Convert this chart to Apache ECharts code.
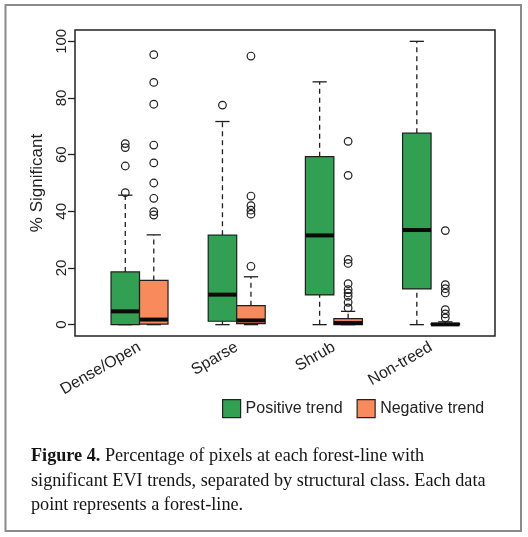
<!DOCTYPE html>
<html><head><meta charset="utf-8">
<script src="https://cdn.jsdelivr.net/npm/echarts@6/dist/echarts.min.js"></script>
<style>html,body{margin:0;padding:0;background:#fff}#c{width:528px;height:537px}</style>
</head><body><div id="c"></div>
<script>
// Categories and tick labels
const categories = ['Dense/Open', 'Sparse', 'Shrub', 'Non-treed'];
const yTicks = [0, 20, 40, 60, 80, 100];
// Box statistics per category: [lowerWhisker, Q1, median, Q3, upperWhisker]
const positiveStats = [
  [0, 0, 4.7, 18.6, 45.7],
  [0, 1.2, 10.6, 31.6, 71.7],
  [0, 10.5, 31.5, 59.3, 85.7],
  [0, 12.6, 33.4, 67.6, 100]
];
const negativeStats = [
  [0, 0.2, 1.8, 15.6, 31.7],
  [0, 0.35, 1.5, 6.7, 16.9],
  [0, 0, 0.6, 2.1, 4.7],
  [0, 0, 0.1, 0.4, 1.0]
];
// Outliers per category
const positiveOutliers = [
  [63.9, 62.5, 56, 46.6],
  [77.5],
  [],
  []
];
const negativeOutliers = [
  [95.3, 85.5, 77.8, 63.4, 57.1, 50, 44.6, 39.9, 38.7],
  [94.8, 45.4, 42, 40.4, 39, 20.6],
  [64.7, 52.7, 23, 21.6, 14.5, 12.4, 11.2, 10, 7.9, 5.9],
  [33.2, 14.1, 12.7, 11.2, 5.3, 3.8, 2.4]
];

const GREEN = '#31a052';
const ORANGE = '#f98a5b';
const HALF = 0.1466; // half box width in category units
const INK = '#1e1e1e';

function makeRender(outliers, side, color) {
  return function (params, api) {
    const i = api.value(0);
    const cx = i + 1 + side * HALF;
    const lo = api.value(1), q1 = api.value(2), med = api.value(3), q3 = api.value(4), hi = api.value(5);
    const c = (x, y) => api.coord([x, y]);
    const children = [];
    const dash = { stroke: INK, lineWidth: 1.3, lineDash: [5, 4] };
    const solid = { stroke: INK, lineWidth: 1.3 };
    let a = c(cx, q3), b = c(cx, hi);
    children.push({ type: 'line', shape: { x1: a[0], y1: a[1], x2: b[0], y2: b[1] }, style: dash });
    a = c(cx, lo); b = c(cx, q1);
    children.push({ type: 'line', shape: { x1: a[0], y1: a[1], x2: b[0], y2: b[1] }, style: dash });
    [hi, lo].forEach(v => {
      const p1 = c(cx - HALF / 2, v), p2 = c(cx + HALF / 2, v);
      children.push({ type: 'line', shape: { x1: p1[0], y1: p1[1], x2: p2[0], y2: p2[1] }, style: solid });
    });
    const tl = c(cx - HALF, q3), br = c(cx + HALF, q1);
    children.push({ type: 'rect', shape: { x: tl[0], y: tl[1], width: br[0] - tl[0], height: Math.max(br[1] - tl[1], 0.5) },
      style: { fill: color, stroke: INK, lineWidth: 1.2 } });
    const m1 = c(cx - HALF, med), m2 = c(cx + HALF, med);
    children.push({ type: 'line', shape: { x1: m1[0], y1: m1[1], x2: m2[0], y2: m2[1] }, style: { stroke: '#0a0a0a', lineWidth: 4 } });
    (outliers[i] || []).forEach(v => {
      const p = c(cx, v);
      children.push({ type: 'circle', shape: { cx: p[0], cy: p[1], r: 3.8 }, style: { fill: 'none', stroke: INK, lineWidth: 1.2 } });
    });
    return { type: 'group', children };
  };
}

const chart = echarts.init(document.getElementById('c'), null, { renderer: 'canvas' });
const font = 'Liberation Sans';
chart.setOption({
  animation: false,
  backgroundColor: '#fff',
  grid: { left: 75, right: 33, top: 30, bottom: 201, show: true, borderColor: '#222', borderWidth: 1.5, backgroundColor: 'transparent' },
  xAxis: {
    type: 'value', min: 0.336, max: 4.658,
    axisLine: { show: false }, axisTick: { show: false }, splitLine: { show: false },
    axisLabel: {
      customValues: [1, 2, 3, 4],
      formatter: v => categories[Math.round(v) - 1] || '',
      rotate: 30, margin: 10, fontSize: 16, fontFamily: font, color: '#222'
    }
  },
  yAxis: {
    type: 'value', min: -4, max: 104,
    name: '% Significant', nameLocation: 'middle', nameRotate: 90, nameGap: 26,
    nameTextStyle: { fontSize: 17, fontFamily: font, color: '#222' },
    axisLine: { show: false }, splitLine: { show: false },
    axisTick: { show: true, customValues: yTicks, length: 7, lineStyle: { color: '#222', width: 1.3 } },
    axisLabel: { customValues: yTicks, rotate: 90, margin: 6, fontSize: 15, fontFamily: font, color: '#222' }
  },
  legend: {
    left: 222, top: 399, padding: 0, itemWidth: 18, itemHeight: 18, itemGap: 14,
    icon: 'rect',
    itemStyle: { borderColor: '#222', borderWidth: 1.2 },
    textStyle: { fontSize: 16, fontFamily: font, color: '#222' },
    data: ['Positive trend', 'Negative trend']
  },
  series: [
    {
      name: 'Positive trend', type: 'custom', clip: false,
      itemStyle: { color: GREEN, borderColor: '#222', borderWidth: 1.2 },
      encode: { x: 0, y: [1, 2, 3, 4, 5] },
      data: positiveStats.map((s, i) => [i].concat(s)),
      renderItem: makeRender(positiveOutliers, -1, GREEN)
    },
    {
      name: 'Negative trend', type: 'custom', clip: false,
      itemStyle: { color: ORANGE, borderColor: '#222', borderWidth: 1.2 },
      encode: { x: 0, y: [1, 2, 3, 4, 5] },
      data: negativeStats.map((s, i) => [i].concat(s)),
      renderItem: makeRender(negativeOutliers, 1, ORANGE)
    }
  ],
  graphic: [
    { type: 'rect', silent: true, shape: { x: 5.5, y: 5, width: 515.5, height: 526 }, style: { fill: 'none', stroke: '#8a8a8a', lineWidth: 2 } },
    { type: 'text', silent: true, left: 31, top: 444,
      style: {
        text: '{b|Figure 4.} Percentage of pixels at each forest-line with\nsignificant EVI trends, separated by structural class. Each data\npoint represents a forest-line.',
        fontFamily: 'Liberation Serif', fontSize: 18.2, lineHeight: 24.5, fill: '#141414',
        rich: { b: { fontWeight: 'bold', fontFamily: 'Liberation Serif', fontSize: 18.2, lineHeight: 24.5, fill: '#141414' } }
      } }
  ]
});
</script>
</body></html>
